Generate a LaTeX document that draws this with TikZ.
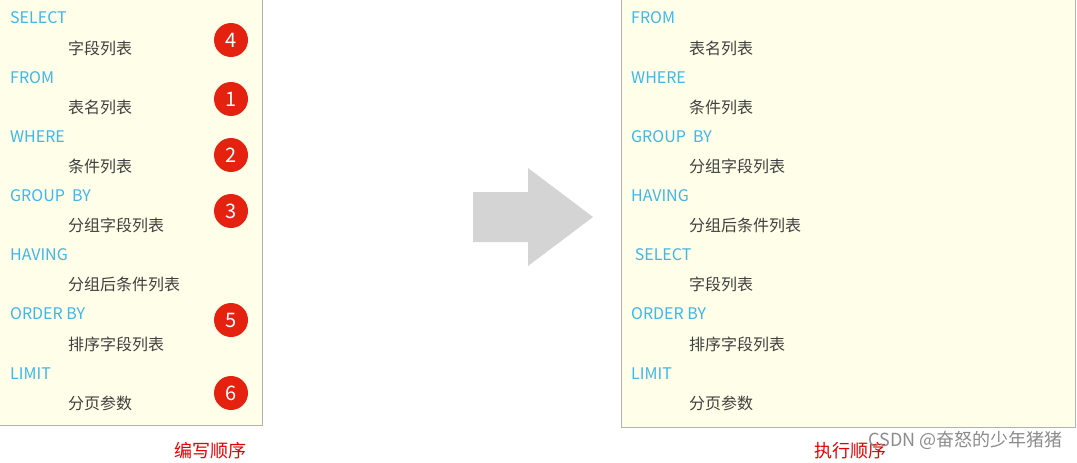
\documentclass[tikz,border=0pt]{standalone}
\usepackage{fontspec}
\setmainfont{Noto Sans CJK SC}
\definecolor{kwc}{HTML}{3DB8E8}
\definecolor{numc}{HTML}{E52210}
\begin{document}
\begin{tikzpicture}[x=1pt,y=-1pt,
  box/.style={draw=black!30,fill=yellow!9!white,line width=0.8pt},
  kw/.style={anchor=west,text=kwc,font=\fontsize{16}{16}\selectfont,inner sep=0pt},
  sub/.style={anchor=west,text=black!75,font=\fontsize{16}{16}\selectfont,inner sep=0pt},
  num/.style={circle,fill=numc,text=white,minimum size=34pt,inner sep=0pt,font=\fontsize{20}{20}\selectfont},
  captext/.style={text=red!90!black,font=\fontsize{18}{18}\selectfont,inner sep=0pt}]
\useasboundingbox (0,0) rectangle (1077,463);
\fill[white] (0,0) rectangle (1077,463);
\draw[box] (-2,-2) rectangle (262,425);
\draw[box] (621,-2) rectangle (1075,427);
\foreach \k/\s/\i in {SELECT/字段列表/1,FROM/表名列表/2,WHERE/条件列表/3,GROUP\ \ BY/分组字段列表/4,HAVING/分组后条件列表/5,ORDER BY/排序字段列表/6,LIMIT/分页参数/7}{
  \node[kw] (lk\i) at (10,{18+(\i-1)*59.2}) {\k};
  \node[sub] (ls\i) at (68,{48+(\i-1)*59.2}) {\s};}
\foreach \k/\s/\i in {FROM/表名列表/1,WHERE/条件列表/2,GROUP\ \ BY/分组字段列表/3,HAVING/分组后条件列表/4,\ SELECT/字段列表/5,ORDER BY/排序字段列表/6,LIMIT/分页参数/7}{
  \node[kw] (rk\i) at (631,{18+(\i-1)*59.2}) {\k};
  \node[sub] (rs\i) at (689,{48+(\i-1)*59.2}) {\s};}
\foreach \n/\y in {4/40,1/99,2/155,3/211,5/320,6/393}{
  \node[num] (c\n) at (231,\y) {\n};}
\fill[black!17] (473,192) -- (528,192) -- (528,168) -- (593,217) -- (528,266) -- (528,242) -- (473,242) -- cycle;
\node[captext] (lc) at (210,451) {编写顺序};
\node[captext] (rc) at (850,451) {执行顺序};
\node[text=black!45,font=\fontsize{18}{18}\selectfont,inner sep=0pt,anchor=east] (wm) at (1063,440) {CSDN @奋怒的少年猪猪};
\end{tikzpicture}
\end{document}
